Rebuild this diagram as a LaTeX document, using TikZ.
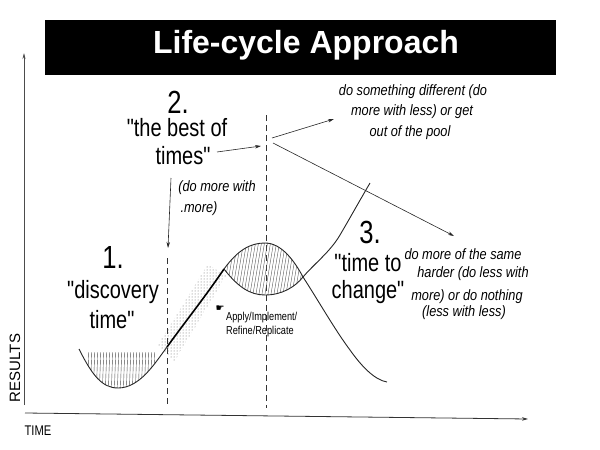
\documentclass[tikz,border=0pt]{standalone}
\usepackage{fontspec}
\setmainfont{Liberation Sans}
\newfontfamily\cond[FakeStretch=0.8]{Liberation Sans}
\newfontfamily\condi[FakeStretch=0.85]{Liberation Sans}
\newfontfamily\djv{DejaVu Sans}
\usetikzlibrary{arrows.meta,patterns}
\begin{document}
\begin{tikzpicture}[x=1pt,y=-1pt,
  curve/.style={line width=0.9pt,black!85},
  dashline/.style={dashed,dash pattern=on 6pt off 4pt,line width=0.6pt,black!80},
  thinarrow/.style={line width=0.6pt,black!85,-{Stealth[length=6pt,width=3.5pt]}},
  hatch/.style={line width=0.4pt,black!70},
  big/.style={font=\cond\fontsize{25}{25}\selectfont,inner sep=0pt},
  num/.style={font=\cond\fontsize{32}{32}\selectfont,inner sep=0pt},
  note/.style={font=\condi\itshape\fontsize{15}{15}\selectfont,inner sep=0pt},
  small/.style={font=\cond\fontsize{11.5}{11.5}\selectfont,inner sep=0pt}]
\useasboundingbox (0,0) rectangle (600,450);
% title
\node[fill=black,minimum width=511pt,minimum height=55pt,inner sep=0pt,anchor=north west] (title) at (45,20) {};
\node[text=white,font=\bfseries\fontsize{32}{32}\selectfont] (titletext) at (306,45) {Life-cycle Approach};
% axes
\coordinate (yb) at (24,405);
\coordinate (yt) at (24,53);
\coordinate (xl) at (25,413);
\coordinate (xr) at (528,419);
\draw[line width=0.7pt,black!70,-{Stealth[length=6pt,width=3pt]}] (yb) -- (yt);
\draw[line width=0.8pt,black!80,-{Stealth[length=6pt,width=3.5pt]}] (xl) -- (xr);
\node[rotate=90,font=\fontsize{15}{15}\selectfont,inner sep=0pt] (results) at (15,368) {RESULTS};
\node[font=\cond\fontsize{14}{14}\selectfont,inner sep=0pt] (time) at (38,431) {TIME};
% dashed lines
\coordinate (d1t) at (167,258);
\coordinate (d1b) at (167,407);
\coordinate (d2t) at (266,115);
\coordinate (d2b) at (266,408);
\draw[dashline] (d1t) -- (d1b);
\draw[dashline] (d2t) -- (d2b);
% stipple band
\fill[pattern=dots,pattern color=black!60] (208,264) -- (226,276) -- (174,362) -- (158,345) -- cycle;
% bottom hatching
\begin{scope}
\clip (79,349) .. controls (92,375) and (102,388) .. (118,388) .. controls (140,388) and (155,363) .. (167,347) -- cycle;
\clip (86,352) rectangle (157,400);
\foreach \x in {78,81,...,165} \draw[hatch] (\x,400) -- (\x+2,345);
\end{scope}
% lens hatching
\begin{scope}
\clip (224,269) .. controls (238,250) and (250,243) .. (265,243) .. controls (282,243) and (295,262) .. (303,277) .. controls (295,287) and (282,295) .. (265,295) .. controls (250,295) and (238,287) .. (224,269) -- cycle;
\foreach \x in {210,213,...,310} \draw[hatch] (\x,300) -- (\x+10,240);
\end{scope}
% curves
\draw[curve] (79,349) .. controls (92,375) and (102,388) .. (118,388) .. controls (140,388) and (155,363) .. (167,347);
\draw[line width=1.6pt,black] (167,347) .. controls (185,322) and (205,297) .. (224,269);
\draw[curve] (224,269) .. controls (238,250) and (250,243) .. (265,243) .. controls (282,243) and (295,262) .. (303,277)
  .. controls (318,300) and (335,330) .. (350,350) .. controls (362,367) and (375,380) .. (387,382);
\draw[curve] (224,269) .. controls (238,287) and (250,295) .. (265,295) .. controls (282,295) and (295,287) .. (303,277)
  .. controls (315,263) and (330,252) .. (340,235) .. controls (350,218) and (360,200) .. (370,183);
% labels stage 2
\node[num] (n2) at (178,102) {2.};
\node[big] (best) at (177,128) {"the best of};
\node[big] (times) at (183,156) {times"};
\coordinate (ta) at (217,152);
\coordinate (tb) at (261,146);
\draw[thinarrow] (ta) -- (tb);
\node[note] (dm1) at (217,188) {(do more with};
\node[note] (dm2) at (199,209) {.more)};
\coordinate (da) at (171,178);
\coordinate (db) at (168,248);
\draw[thinarrow] (da) -- (db);
% stage 1
\node[num] (n1) at (113,257) {1.};
\node[big] (disc) at (113,292) {"discovery};
\node[big] (dtime) at (112,320) {time"};
% stage 3
\node[num] (n3) at (370,232) {3.};
\node[big] (tto) at (368,263) {"time to};
\node[big] (chg) at (368,292) {change"};
% top right notes
\node[note] (s1) at (413,92) {do something different (do};
\node[note] (s2) at (412,112) {more with less) or get};
\node[note] (s3) at (410,133) {out of the pool};
\coordinate (o1) at (272,138);
\coordinate (e1) at (334,119);
\coordinate (o2) at (273,143);
\coordinate (e2) at (454,236);
\draw[thinarrow] (o1) -- (e1);
\draw[thinarrow] (o2) -- (e2);
% right notes
\node[note] (r1) at (463,254) {do more of the same};
\node[note] (r2) at (473,274) {harder (do less with};
\node[note] (r3) at (467,297) {more) or do nothing};
\node[note] (r4) at (464,313) {(less with less)};
% apply text
\node[font=\djv\fontsize{10}{10}\selectfont,inner sep=0pt] (hand) at (220,309) {☛};
\node[small,anchor=west] (ap1) at (226,318) {Apply/Implement/};
\node[small,anchor=west] (ap2) at (226,332) {Refine/Replicate};
\end{tikzpicture}
\end{document}
